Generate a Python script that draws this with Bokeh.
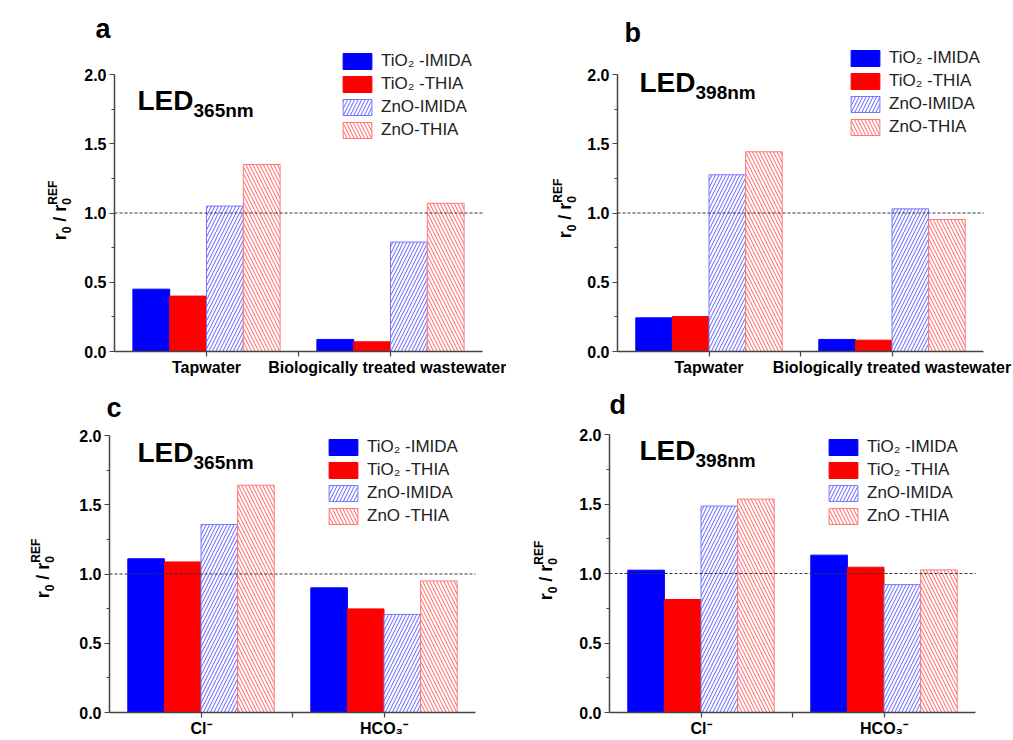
import numpy as np
from bokeh.plotting import figure
from bokeh.models import Range1d, FixedTicker, PrintfTickFormatter, Label, Legend, LegendItem
from bokeh.layouts import column, row
from bokeh.embed import file_html
from bokeh.resources import INLINE

# ---------------- data ----------------
names_ab = ["TiO\u2082 -IMIDA", "TiO\u2082 -THIA", "ZnO-IMIDA", "ZnO-THIA"]
names_cd = ["TiO\u2082 -IMIDA", "TiO\u2082 -THIA", "ZnO-IMIDA", "ZnO -THIA"]
cats_ab = ["Tapwater", "Biologically treated wastewater"]
cats_cd = ["Cl\u207b", "HCO\u2083\u207b"]
y_ticks = [0.0, 0.5, 1.0, 1.5, 2.0]
y_minor = [0.25, 0.75, 1.25, 1.75]
ref_level = 1.0

# panel a (LED 365 nm, water matrices)
a_tio2_imida = [0.45, 0.087]
a_tio2_thia = [0.40, 0.07]
a_zno_imida = [1.05, 0.79]
a_zno_thia = [1.35, 1.07]
# panel b (LED 398 nm, water matrices)
b_tio2_imida = [0.243, 0.087]
b_tio2_thia = [0.253, 0.082]
b_zno_imida = [1.276, 1.03]
b_zno_thia = [1.442, 0.953]
# panel c (LED 365 nm, anions)
c_tio2_imida = [1.11, 0.90]
c_tio2_thia = [1.087, 0.748]
c_zno_imida = [1.357, 0.708]
c_zno_thia = [1.641, 0.95]
# panel d (LED 398 nm, anions)
d_tio2_imida = [1.024, 1.132]
d_tio2_thia = [0.813, 1.045]
d_zno_imida = [1.485, 0.92]
d_zno_thia = [1.535, 1.026]

# ---------------- styling ----------------
FONT = "Liberation Sans"
AX = "#444444"
STYLES = [
    dict(fill_color="#0000ff", line_color="#0000ff"),
    dict(fill_color="#ff0000", line_color="#ff0000"),
    dict(fill_color="white", line_color="#7777ff", hatch_pattern="/",
         hatch_color="#6060ff", hatch_scale=7, hatch_weight=1),
    dict(fill_color="white", line_color="#ff7777", hatch_pattern="\\",
         hatch_color="#ff6060", hatch_scale=7, hatch_weight=1),
]
OFFSETS = [-0.3, -0.1, 0.1, 0.3]
BAR_W = 0.2
MID = 0.35  # distance baseline -> middle anchor, in em
BOLD_W = {'r': .389, '0': .556, ' ': .278, '/': .278, 'R': .722, 'E': .667,
          'F': .611, 'L': .611, 'D': .722}


def tw(s, size):
    return sum(BOLD_W.get(c, .556) for c in s) * size


def build(W, H, fl, fr, y0, y2, cats, vals, names, letter, letter_xy,
          led_sub, led_xy, leg_xy, ylab_x, ylab_cy):
    ux = (fr - fl) / 2.0
    uy = (y0 - y2) / 2.0
    xr = Range1d(0.5 - fl / ux, 0.5 + (W - fl) / ux)
    yr = Range1d(-(H - y0) / uy, y0 / uy)
    p = figure(width=W, height=H, x_range=xr, y_range=yr,
               output_backend="svg", toolbar_location=None,
               min_border_left=0, min_border_right=0,
               min_border_top=0, min_border_bottom=0)
    p.outline_line_color = None
    p.grid.visible = False
    p.background_fill_color = "white"
    p.border_fill_color = "white"

    def px2d(px, py):
        return 0.5 + (px - fl) / ux, (y0 - py) / uy

    xa = p.xaxis[0]
    ya = p.yaxis[0]
    for ax in (xa, ya):
        ax.axis_line_color = AX
        ax.axis_line_width = 1.5
        ax.major_tick_line_color = AX
        ax.minor_tick_line_color = AX
        ax.major_tick_line_width = 1.2
        ax.minor_tick_line_width = 1.2
        ax.major_tick_in = 0
        ax.major_tick_out = 5
        ax.minor_tick_in = 0
        ax.major_label_text_font = FONT
        ax.major_label_text_font_style = "bold"
        ax.major_label_text_color = "black"
    ya.fixed_location = 0.5
    ya.ticker = FixedTicker(ticks=y_ticks, minor_ticks=y_minor)
    ya.bounds = (0, 2)
    ya.formatter = PrintfTickFormatter(format="%.1f")
    ya.minor_tick_out = 3
    ya.major_label_standoff = 3
    ya.major_label_text_font_size = "16px"
    xa.fixed_location = 0
    xa.ticker = FixedTicker(ticks=[1, 2], minor_ticks=[1.5])
    xa.bounds = (0.5, 2.5)
    xa.major_label_overrides = {1: cats[0], 2: cats[1]}
    xa.minor_tick_out = 5
    xa.major_label_standoff = 2
    xa.major_label_text_font_size = "16px"

    xs = np.array([1.0, 2.0])
    rends = []
    for k, v in enumerate(vals):
        r = p.vbar(x=xs + OFFSETS[k], top=v, bottom=0, width=BAR_W, **STYLES[k])
        rends.append(r)

    # dashed reference line at r0/r0REF = 1 across the x-axis span
    p.segment(x0=[xa.bounds[0]], y0=[ref_level], x1=[xa.bounds[1]], y1=[ref_level],
              line_color="#333333", line_dash="3 2", line_width=1)

    gh, sp = 20, 3
    leg_h = 4 * gh + 3 * sp
    legend = Legend(items=[LegendItem(label=n, renderers=[r]) for n, r in zip(names, rends)],
                    location=(leg_xy[0], H - (leg_xy[1] - 2 + leg_h)),
                    padding=0, margin=0, spacing=sp, glyph_width=36, glyph_height=gh,
                    label_height=gh, label_standoff=6,
                    border_line_color=None, background_fill_alpha=0)
    legend.label_text_font = FONT
    legend.label_text_font_size = "17px"
    legend.label_text_color = "#222222"
    p.add_layout(legend)

    def lab(text, px, py, size, angle=0.0, bold=True):
        # (px, py) = start of the text on its baseline, in panel pixels
        if angle == 0.0:
            ax_, ay_ = px, py - MID * size
        else:
            ax_, ay_ = px - MID * size, py
        x, y = px2d(ax_, ay_)
        p.add_layout(Label(x=x, y=y, text=text, text_font=FONT,
                           text_font_size=f"{size}px",
                           text_font_style="bold" if bold else "normal",
                           text_baseline="middle", text_align="left",
                           angle=angle, text_color="black"))

    # panel letter
    lab(letter, letter_xy[0], letter_xy[1], 27)
    # LED label
    lab("LED", led_xy[0], led_xy[1], 28)
    lab(led_sub, led_xy[0] + tw("LED", 28), led_xy[1] + 7, 19)

    # rotated y label: r0 / r0^REF (reads bottom to top)
    m, s = 18, 12
    sp_w = tw(" ", m)
    total = tw("r", m) + tw("0", s) + 2 * sp_w + tw("/", m) + tw("r", m) + tw("REF", s)
    yy = ylab_cy + total / 2
    ang = np.pi / 2
    lab("r", ylab_x, yy, m, ang)
    yy -= tw("r", m)
    lab("0", ylab_x + 4, yy, s, ang)
    yy -= tw("0", s) + sp_w
    lab("/", ylab_x, yy, m, ang)
    yy -= tw("/", m) + sp_w
    lab("r", ylab_x, yy, m, ang)
    yy -= tw("r", m)
    lab("0", ylab_x + 4, yy, s, ang)
    lab("REF", ylab_x - 9, yy, s, ang)
    return p


pa = build(506, 378, 114, 482, 351, 74, cats_ab,
           [a_tio2_imida, a_tio2_thia, a_zno_imida, a_zno_thia], names_ab,
           "a", (95, 38), "365nm", (137, 110), (339, 53), 66, 210)
pb = build(507, 378, 111, 477, 351, 74, cats_ab,
           [b_tio2_imida, b_tio2_thia, b_zno_imida, b_zno_thia], names_ab,
           "b", (118, 42), "398nm", (133, 92), (341, 50), 65, 208)
pc = build(506, 362, 109, 475, 334, 57, cats_cd,
           [c_tio2_imida, c_tio2_thia, c_zno_imida, c_zno_thia], names_cd,
           "c", (106, 39), "365nm", (137, 84), (325, 61), 49, 190)
pd_ = build(507, 362, 103, 469, 334, 56, cats_cd,
            [d_tio2_imida, d_tio2_thia, d_zno_imida, d_zno_thia], names_cd,
            "d", (103, 36), "398nm", (133, 82), (319, 61), 46, 192)

layout = column(row(pa, pb), row(pc, pd_))
open("out.html", "w").write(file_html(layout, INLINE))
